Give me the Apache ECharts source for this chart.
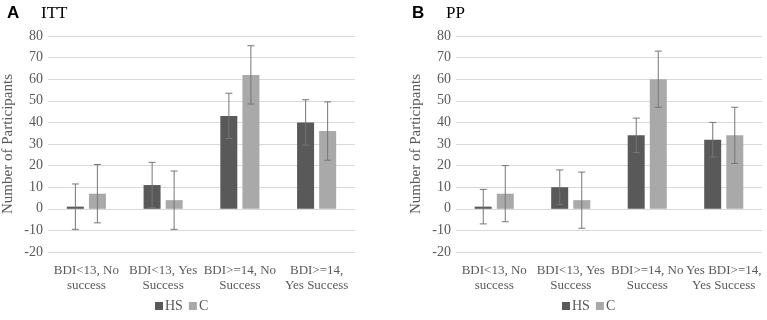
<!DOCTYPE html>
<html>
<head>
<meta charset="utf-8">
<script src="https://cdn.jsdelivr.net/npm/echarts@6/dist/echarts.min.js"></script>
<style>
html,body{margin:0;padding:0;background:#fff;}
#chart{width:767px;height:320px;}
</style>
</head>
<body>
<div id="chart"></div>
<script>
// categories
var catsA = ['BDI<13, No\nsuccess', 'BDI<13, Yes\nSuccess', 'BDI>=14, No\nSuccess', 'BDI>=14,\nYes Success'];
var catsB = ['BDI<13, No\nsuccess', 'BDI<13, Yes\nSuccess', 'BDI>=14, No\nSuccess', 'Yes BDI>=14,\nYes Success'];
// ITT
var ittHS = [1, 11, 43, 40];
var ittC = [7, 4, 62, 36];
var ittHSErr = [10.5, 10.5, 10.5, 10.5];
var ittCErr = [13.5, 13.5, 13.5, 13.5];
// PP
var ppHS = [1, 10, 34, 32];
var ppC = [7, 4, 60, 34];
var ppHSErr = [8, 8, 8, 8];
var ppCErr = [13, 13, 13, 13];

var serif = 'Liberation Serif';
var txt = '#595959';

function errData(vals, errs){
	return vals.map(function(v, i){ return [i, v - errs[i], v + errs[i]]; });
}
// 误差线
function errSeries(name, vals, errs, idx, offset){
	return {
		name: name,
		type: 'custom',
		xAxisIndex: idx,
		yAxisIndex: idx,
		silent: true,
		z: 5,
		data: errData(vals, errs),
		renderItem: function(params, api){
			var lo = api.coord([api.value(0), api.value(1)]);
			var hi = api.coord([api.value(0), api.value(2)]);
			var x = lo[0] + offset;
			var cap = 3.5;
			var st = { stroke: '#767676', lineWidth: 1 };
			return {
				type: 'group',
				children: [
					{ type: 'line', shape: { x1: x, y1: lo[1], x2: x, y2: hi[1] }, style: st },
					{ type: 'line', shape: { x1: x - cap, y1: lo[1], x2: x + cap, y2: lo[1] }, style: st },
					{ type: 'line', shape: { x1: x - cap, y1: hi[1], x2: x + cap, y2: hi[1] }, style: st }
				]
			};
		}
	};
}

function xAx(cats, idx){
	return {
		type: 'category', gridIndex: idx, data: cats,
		axisLine: { show: false }, axisTick: { show: false },
		axisLabel: { interval: 0, color: txt, fontFamily: serif, fontSize: 13, lineHeight: 15, margin: 11 }
	};
}
function yAx(idx){
	return {
		type: 'value', gridIndex: idx, min: -20, max: 80, interval: 10,
		name: 'Number of Participants', nameLocation: 'middle', nameGap: 32, nameRotate: 90,
		nameTextStyle: { color: txt, fontFamily: serif, fontSize: 15 },
		axisLine: { show: false }, axisTick: { show: false },
		axisLabel: { color: txt, fontFamily: serif, fontSize: 14, margin: 5 },
		splitLine: { lineStyle: { color: '#d9d9d9' } }
	};
}
function bar(name, vals, idx, color){
	return {
		name: name, type: 'bar', xAxisIndex: idx, yAxisIndex: idx,
		data: vals, barWidth: 17, barGap: '30%', itemStyle: { color: color }
	};
}

var myChart = echarts.init(document.getElementById('chart'));
var option = {
	animation: false,
	color: ['#595959', '#a9a9a9'],
	title: [
		{ text: 'A', left: 2, top: 0, textStyle: { fontFamily: 'Liberation Sans', fontWeight: 'bold', fontSize: 17, color: '#000' } },
		{ text: 'ITT', left: 36, top: 0, textStyle: { fontFamily: serif, fontWeight: 'normal', fontSize: 17, color: '#000' } },
		{ text: 'B', left: 407, top: 0, textStyle: { fontFamily: 'Liberation Sans', fontWeight: 'bold', fontSize: 17, color: '#000' } },
		{ text: 'PP', left: 441, top: 0, textStyle: { fontFamily: serif, fontWeight: 'normal', fontSize: 17, color: '#000' } }
	],
	legend: [
		{ data: ['HS', 'C'], left: 150, bottom: 2, itemWidth: 8, itemHeight: 8, itemGap: 6, icon: 'rect',
		  textStyle: { color: txt, fontFamily: serif, fontSize: 14, padding: [0, 0, 0, -3] } },
		{ data: ['HS', 'C'], left: 557, bottom: 2, itemWidth: 8, itemHeight: 8, itemGap: 6, icon: 'rect',
		  textStyle: { color: txt, fontFamily: serif, fontSize: 14, padding: [0, 0, 0, -3] } }
	],
	grid: [
		{ left: 48, right: 412, top: 36, bottom: 68 },
		{ left: 456, right: 5, top: 36, bottom: 68 }
	],
	xAxis: [xAx(catsA, 0), xAx(catsB, 1)],
	yAxis: [yAx(0), yAx(1)],
	series: [
		bar('HS', ittHS, 0, '#595959'),
		bar('C', ittC, 0, '#a9a9a9'),
		bar('HS', ppHS, 1, '#595959'),
		bar('C', ppC, 1, '#a9a9a9'),
		errSeries('HS', ittHS, ittHSErr, 0, -11),
		errSeries('C', ittC, ittCErr, 0, 11),
		errSeries('HS', ppHS, ppHSErr, 1, -11),
		errSeries('C', ppC, ppCErr, 1, 11)
	]
};
myChart.setOption(option);
</script>
</body>
</html>
